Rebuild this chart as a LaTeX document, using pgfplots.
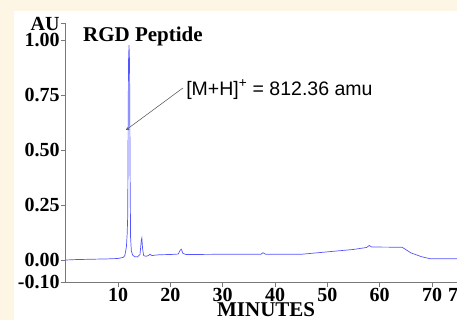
\documentclass[border=0pt]{standalone}
\usepackage{pgfplots}
\pgfplotsset{compat=1.18}
\usepackage{fontspec}
\setmainfont{Liberation Serif}
\newfontfamily\arialfont{Liberation Sans}
\definecolor{cream}{RGB}{253,246,228}
\definecolor{trace}{RGB}{85,85,255}
\definecolor{axgray}{RGB}{120,120,120}
\begin{document}
\begin{tikzpicture}[x=1bp,y=1bp]
\path[use as bounding box] (0,0) rectangle (457,320);
\fill[cream] (0,0) rectangle (457,320);
\fill[white] (14,0) rectangle (457,309);
\begin{axis}[
  at={(65.7bp,38bp)}, anchor=south west,
  scale only axis, width=397.7bp, height=258.5bp,
  xmin=0, xmax=76, ymin=-0.10, ymax=1.075,
  axis lines=left, axis line style={-, draw=axgray, line width=0.6bp},
  tick style={draw=axgray, line width=0.6bp},
  tick align=outside, major tick length=5bp,
  xtick={10,20,30,40,50,60,70,75},
  xticklabels={10,20,30,40,50,60,70,75},
  ytick={-0.10,0,0.25,0.5,0.75,1.0,1.075},
  yticklabels={-0.10,0.00,0.25,0.50,0.75,1.00,AU},
  xticklabel style={anchor=north, inner sep=1bp, font=\bfseries\fontsize{20bp}{20bp}\selectfont},
  yticklabel style={anchor=east, inner sep=1bp, font=\bfseries\fontsize{20bp}{20bp}\selectfont},
  clip=false,
]
\addplot[trace, line width=0.7bp] coordinates {
(0,0.000) (2,0.002) (4,0.003) (6,0.004) (8,0.005) (10,0.007)
(11.0,0.012) (11.3,0.020) (11.6,0.06) (11.75,0.12) (11.85,0.20)
(12.0,0.90) (12.1,0.977) (12.2,0.90) (12.3,0.40) (12.4,0.10)
(12.55,0.04) (12.8,0.022) (13.2,0.015) (13.7,0.014) (14.2,0.025)
(14.45,0.09) (14.55,0.10) (14.7,0.05) (14.9,0.02) (15.3,0.017)
(15.8,0.02) (16.1,0.026) (16.5,0.020) (17.0,0.022) (18,0.024)
(20,0.025) (21.5,0.027) (21.9,0.045) (22.1,0.049) (22.4,0.030)
(23,0.025) (30,0.026) (37.3,0.026) (37.7,0.033) (38.2,0.026)
(45,0.026) (50,0.037) (55,0.048) (57.5,0.057) (58.0,0.066)
(58.5,0.059) (64.3,0.058) (66,0.032) (68,0.015) (69.6,0.006) (76,0.006)
};
\node[anchor=base west, inner sep=0pt, font=\bfseries\fontsize{21bp}{21bp}\selectfont] at (axis cs:3.3,0.992) {RGD Peptide};
\node[anchor=base west, inner sep=0pt, font=\arialfont\fontsize{19.5bp}{19.5bp}\selectfont] at (axis cs:23.0,0.75) {[M+H]\textsuperscript{+} = 812.36 amu};
\draw[-stealth, black!70, line width=0.5bp] (axis cs:22.4,0.782) -- (axis cs:11.52,0.591);
\node[anchor=base, inner sep=0pt, font=\bfseries\fontsize{21bp}{21bp}\selectfont] at (axis cs:38.3,-0.259) {MINUTES};
\end{axis}
\end{tikzpicture}
\end{document}
